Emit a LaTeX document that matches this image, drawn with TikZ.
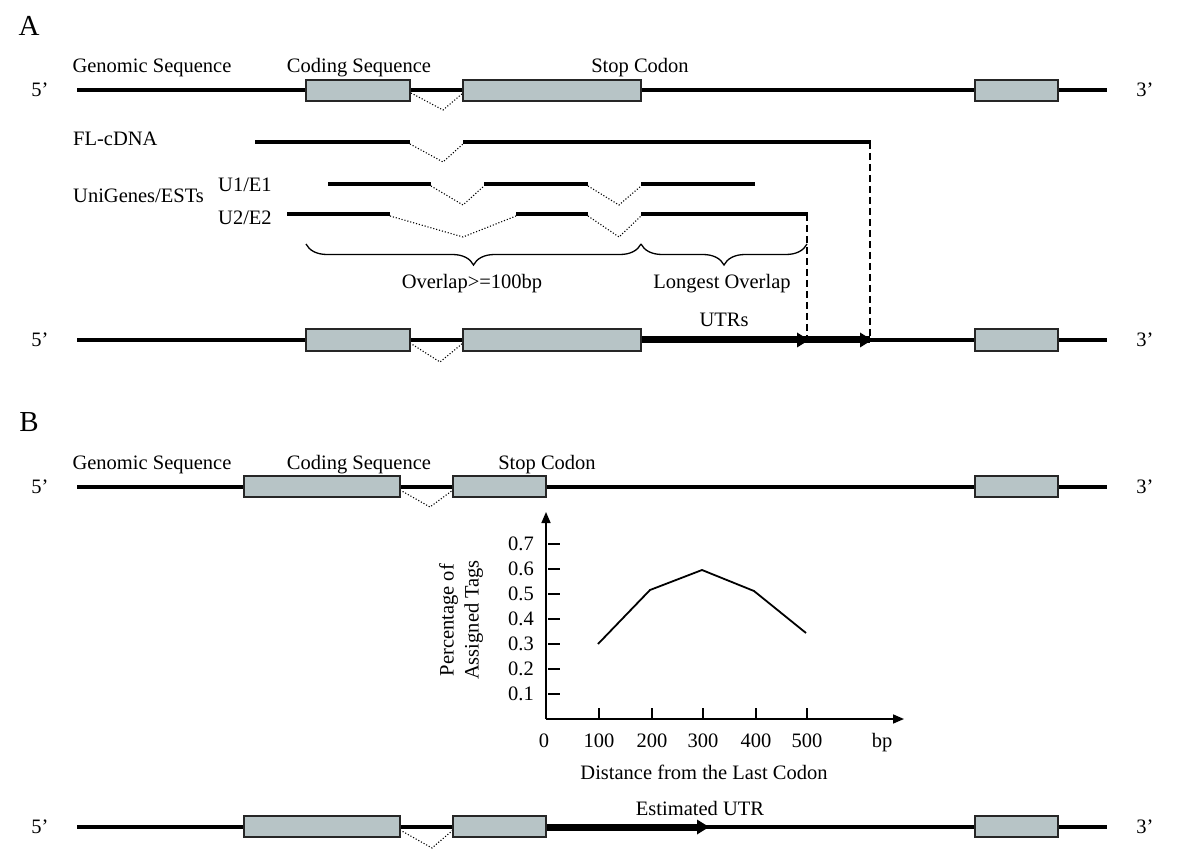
\documentclass[tikz,border=0pt]{standalone}
\usepackage{fontspec}
\setmainfont{Liberation Serif}
\usetikzlibrary{arrows.meta,decorations.pathreplacing}
\definecolor{exongray}{RGB}{183,196,198}
\begin{document}
\begin{tikzpicture}[x=1pt,y=-1pt,
  gline/.style={line width=4.6pt},
  utrline/.style={line width=7pt},
  exon/.style={draw=black!85, line width=1.3pt, fill=exongray},
  intron/.style={line width=1.1pt, dash pattern=on 1.1pt off 1.9pt},
  guide/.style={line width=1.5pt, dash pattern=on 7pt off 4pt},
  lab/.style={font=\fontsize{20.5}{25}\selectfont, inner sep=0pt},
  panel/.style={font=\fontsize{29}{32}\selectfont, inner sep=0pt},
  axisline/.style={line width=1.6pt, -{Triangle[length=11pt,width=9pt]}},
  tickline/.style={line width=1.8pt},
  brc/.style={decorate, decoration={brace,mirror,amplitude=21pt}, line width=1.3pt},
  tipfill/.style={fill=black}
]
\useasboundingbox (0,0) rectangle (1200,850);

% ================= Panel A =================
\node[panel] (pA) at (29,26) {A};

% genomic row
\node[lab,anchor=base] (gsA) at (152,72.5) {Genomic Sequence};
\node[lab,anchor=base] (csA) at (359,72.5) {Coding Sequence};
\node[lab,anchor=base] (scA) at (640,72.5) {Stop Codon};
\node[lab] (p5A) at (40,90) {5’};
\node[lab] (p3A) at (1145,90) {3’};
\draw[gline] (77,90) -- (1107,90);
\draw[intron] (411,93) -- (443,110) -- (463,93);
\draw[exon] (306,80) rectangle (410,101);
\draw[exon] (463,80) rectangle (641,101);
\draw[exon] (975,80) rectangle (1058,101);

% FL-cDNA
\node[lab,anchor=base west] (fl) at (73,146) {FL-cDNA};
\draw[gline] (255,142) -- (410,142);
\draw[intron] (410,144) -- (443,162) -- (463,144);
\draw[gline] (463,142) -- (871,142);
\coordinate (flend) at (870,142);

% UniGenes / ESTs
\node[lab,anchor=base west] (ug) at (73,203) {UniGenes/ESTs};
\node[lab,anchor=base west] (u1) at (218,192) {U1/E1};
\node[lab,anchor=base west] (u2) at (218,225) {U2/E2};
\draw[gline] (328,184) -- (431,184);
\draw[intron] (431,186) -- (463,205) -- (484,186);
\draw[gline] (484,184) -- (588,184);
\draw[intron] (588,186) -- (619,205) -- (641,186);
\draw[gline] (641,184) -- (755,184);

\draw[gline] (287,214) -- (390,214);
\draw[intron] (390,216) -- (463,237) -- (516,216);
\draw[gline] (516,214) -- (588,214);
\draw[intron] (588,216) -- (619,237) -- (641,216);
\draw[gline] (641,214) -- (808,214);
\coordinate (u2end) at (807,214);

% braces
\draw[brc] (306,244) -- (641,244);
\draw[brc] (641,244) -- (807,244);
\node[lab,anchor=base] (ov1) at (472,289) {Overlap>=100bp};
\node[lab,anchor=base] (ov2) at (722,289) {Longest Overlap};

% resulting row
\coordinate (t1) at (807,338);
\coordinate (t2) at (870,338);
\draw[guide] (u2end) -- (t1);
\draw[guide] (flend) -- (t2);
\node[lab,anchor=base] (utrs) at (724,327) {UTRs};
\node[lab] (p5B) at (40,340) {5’};
\node[lab] (p3B) at (1145,340) {3’};
\draw[gline] (77,340) -- (1107,340);
\draw[utrline] (641,340) -- (870,340);
\fill[tipfill] (797,332.5) -- (809,340) -- (797,347.5) -- cycle;
\fill[tipfill] (860,332.5) -- (872,340) -- (860,347.5) -- cycle;
\draw[intron] (410,343) -- (440,362) -- (463,343);
\draw[exon] (306,329) rectangle (410,351);
\draw[exon] (463,329) rectangle (641,351);
\draw[exon] (975,329) rectangle (1058,351);

% ================= Panel B =================
\node[panel] (pB) at (29,422) {B};
\node[lab,anchor=base] (gsB) at (152,469) {Genomic Sequence};
\node[lab,anchor=base] (csB) at (359,469) {Coding Sequence};
\node[lab,anchor=base] (scB) at (547,469) {Stop Codon};
\node[lab] (p5C) at (40,487) {5’};
\node[lab] (p3C) at (1145,487) {3’};
\draw[gline] (77,487) -- (1107,487);
\draw[intron] (400,490) -- (430,507) -- (453,490);
\draw[exon] (244,476) rectangle (400,497);
\draw[exon] (453,476) rectangle (546,497);
\draw[exon] (975,476) rectangle (1058,497);

% chart
\coordinate (O) at (546,719);
\coordinate (ytop) at (546,512);
\coordinate (xend) at (904,719);
\draw[axisline] (O) -- (ytop);
\draw[axisline] (O) -- (xend);
\foreach \v/\lbl in {1/0.1,2/0.2,3/0.3,4/0.4,5/0.5,6/0.6,7/0.7}{
  \draw[tickline] (548,{719-25*\v}) -- (560,{719-25*\v});
  \node[lab,anchor=east] (yl\v) at (534,{719-25*\v}) {\lbl};
}
\foreach \i/\xx in {1/599,2/652,3/703,4/756,5/807}{
  \draw[tickline] (\xx,719) -- (\xx,708);
  \node[lab,anchor=base] (xl\i) at (\xx,747.5) {\i00};
}
\node[lab,anchor=base] (x0) at (544,747.5) {0};
\node[lab,anchor=base] (bp) at (882,747.5) {bp};
\node[lab,anchor=base] (xt) at (704,779) {Distance from the Last Codon};
\node[lab,rotate=90,align=center] (yt) at (461,620) {Percentage of\\Assigned Tags};
\draw[line width=1.8pt, line join=miter] (598,644) -- (650,590) -- (702,570) -- (754,591) -- (806,633);

% estimated UTR row
\node[lab,anchor=base] (eutr) at (700,815) {Estimated UTR};
\node[lab] (p5D) at (40,827) {5’};
\node[lab] (p3D) at (1145,827) {3’};
\draw[gline] (77,827) -- (1107,827);
\draw[utrline] (546,827) -- (700,827);
\fill[tipfill] (697,819.5) -- (709,827) -- (697,834.5) -- cycle;
\draw[intron] (400,830) -- (432,848) -- (453,830);
\draw[exon] (244,816) rectangle (400,837);
\draw[exon] (453,816) rectangle (546,837);
\draw[exon] (975,816) rectangle (1058,837);
\end{tikzpicture}
\end{document}
